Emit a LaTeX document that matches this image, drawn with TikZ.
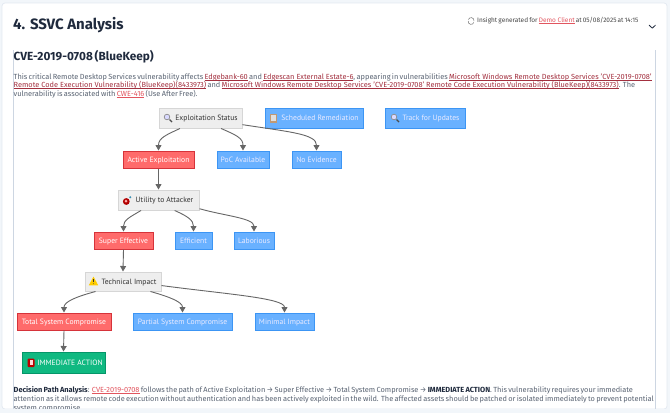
\documentclass[tikz,border=0pt]{standalone}
\usepackage{fontspec}
\usetikzlibrary{arrows.meta}
\setmainfont{Fira Sans}
\newfontfamily\nodefont{PT Sans}
\definecolor{pagebg}{HTML}{F2F6FA}
\definecolor{cardedge}{HTML}{E3E9F1}
\definecolor{rulec}{HTML}{CDD6E2}
\definecolor{headc}{HTML}{1F2A3D}
\definecolor{bodyc}{HTML}{5A6473}
\definecolor{linkc}{HTML}{A3303F}
\definecolor{linkl}{HTML}{E2555F}
\definecolor{redfill}{HTML}{FF6B6B}
\definecolor{rededge}{HTML}{D6333A}
\definecolor{bluefill}{HTML}{69B1FF}
\definecolor{blueedge}{HTML}{3C95F4}
\definecolor{greenfill}{HTML}{10B981}
\definecolor{greenedge}{HTML}{059669}
\definecolor{greyfill}{HTML}{EEEEEE}
\definecolor{greyedge}{HTML}{D6D6D6}
\definecolor{edgec}{HTML}{666666}
\newsavebox\lkbox
\newcommand\ulk[2]{\textcolor{#1}{\sbox\lkbox{#2}\rlap{\rule[-1.1pt]{\wd\lkbox}{.5pt}}\usebox\lkbox}}
\newcommand\lk[1]{\ulk{linkc}{#1}}
\newcommand\lkl[1]{\ulk{linkl}{#1}}
\newcommand\fitl[2]{\makebox[#1][s]{#2}}
\tikzset{
  flowbox/.style={draw,line width=1pt,inner sep=0pt,text height=6.7pt,text depth=1.3pt,font=\nodefont\fontsize{7.65}{10}\selectfont},
  greybox/.style={flowbox,fill=greyfill,draw=greyedge,text=black!80},
  redbox/.style={flowbox,fill=redfill,draw=rededge,text=white},
  bluebox/.style={flowbox,fill=bluefill,draw=blueedge,text=white!92!blue},
  greenbox/.style={flowbox,fill=greenfill,draw=greenedge,text=white},
  flowedge/.style={draw=edgec,line width=0.9pt,-{Triangle[length=5.5pt,width=6pt]}},
  bodyline/.style={anchor=base west,inner sep=0pt,text=bodyc,font=\fontsize{7.4}{9}\selectfont}
}
\newcommand\iconmag[2]{%
  \draw[black!70,line width=1.2pt] (#1+2.5,#2+2.5) -- (#1+5,#2+5);
  \draw[black!45,fill=white!85!blue,line width=.7pt] (#1,#2) circle (2.8pt);}
\newcommand\iconbook[2]{%
  \fill[black!45!orange!55!white] (#1-3.5,#2-4.5) rectangle (#1+3.5,#2+4.5);
  \fill[black!12] (#1-2.6,#2-3.6) rectangle (#1+2.8,#2+2.4);}
\begin{document}
\begin{tikzpicture}[x=1pt,y=-1pt]
\useasboundingbox (0,0) rectangle (670,413);
\fill[pagebg] (0,0) rectangle (670,413);
\filldraw[fill=white,draw=cardedge,line width=.7pt,rounded corners=3pt] (2,3) rectangle (667,409);
\draw[rulec,line width=.7pt] (13.3,50) -- (13.3,409);
\draw[rulec,line width=.7pt] (655.7,50) -- (655.7,409);
% header
\node[anchor=base west,inner sep=0pt,text=headc,font=\bfseries\fontsize{15}{18}\selectfont] (title) at (13,29) {4. SSVC Analysis};
\node[anchor=base west,inner sep=0pt,text=headc,font=\bfseries\fontsize{11.8}{14}\selectfont] (sub) at (13.5,60) {\fitl{134pt}{CVE-2019-0708 (BlueKeep)}};
\draw[black!55,line width=.5pt] (468.2,21) arc (190:20:2.9);
\draw[black!55,line width=.5pt] (474,21) arc (10:-160:2.9);
\node[anchor=base west,inner sep=0pt,text=black!72,font=\fontsize{6.5}{8}\selectfont] (insight) at (477,22) {\fitl{161pt}{Insight generated for \lkl{Demo Client} at 05/08/2025 at 14:15}};
\draw[headc,line width=.8pt,line cap=round,line join=round] (649.2,25.2) -- (652.3,28.2) -- (655.4,25.2);
% intro
\node[bodyline] (p1) at (13.5,79) {\fitl{631.5pt}{This critical Remote Desktop Services vulnerability affects \lk{Edgebank-60} and \lk{Edgescan External Estate-6}, appearing in vulnerabilities \lk{Microsoft Windows Remote Desktop Services 'CVE-2019-0708'}}};
\node[bodyline] (p2) at (13.5,87.7) {\fitl{603pt}{\lk{Remote Code Execution Vulnerability (BlueKeep)(8433973)} and \lk{Microsoft Windows Remote Desktop Services 'CVE-2019-0708' Remote Code Execution Vulnerability (BlueKeep)(8433973)}. The}};
\node[bodyline] (p3) at (13.5,96.5) {\fitl{183pt}{vulnerability is associated with \lkl{CWE-416} (Use After Free).}};
% boxes
\node[greybox,minimum width=83pt,minimum height=20pt] (es) at (200.5,118) {\hspace{12pt}Exploitation Status};
\node[bluebox,minimum width=98pt,minimum height=20pt] (sr) at (314,118) {\hspace{12pt}Scheduled Remediation};
\node[bluebox,minimum width=80pt,minimum height=20pt] (tu) at (425,118) {\hspace{12pt}Track for Updates};
\node[redbox,minimum width=71pt,minimum height=17pt] (ae) at (158.5,159.5) {Active Exploitation};
\node[bluebox,minimum width=52pt,minimum height=17pt] (pa) at (243,159.5) {PoC Available};
\node[bluebox,minimum width=49pt,minimum height=17pt] (ne) at (316.5,159.5) {No Evidence};
\node[greybox,minimum width=81pt,minimum height=20pt] (ua) at (158.5,200) {\hspace{12pt}Utility to Attacker};
\node[redbox,minimum width=59pt,minimum height=17pt] (se) at (123.5,240.5) {Super Effective};
\node[bluebox,minimum width=37pt,minimum height=17pt] (ef) at (193.5,240.5) {Efficient};
\node[bluebox,minimum width=40pt,minimum height=17pt] (la) at (254,240.5) {Laborious};
\node[greybox,minimum width=76pt,minimum height=19pt] (ti) at (123,281.5) {\hspace{12pt}Technical Impact};
\node[redbox,minimum width=94pt,minimum height=17pt] (ts) at (64,321.5) {Total System Compromise};
\node[bluebox,minimum width=99pt,minimum height=17pt] (ps) at (182.5,321.5) {Partial System Compromise};
\node[bluebox,minimum width=59pt,minimum height=17pt] (mi) at (284.5,321.5) {Minimal Impact};
\node[greenbox,minimum width=83pt,minimum height=21pt] (ia) at (63.5,362.5) {\hspace{13pt}IMMEDIATE ACTION};
% icons
\iconmag{167}{117}
\iconbook{273.5}{118.8}
\iconmag{394}{117}
\fill[red!70!black] (126.3,201.5) circle (3.4pt);
\fill[red!35!white] (126,201.2) circle (1.5pt);
\fill[cyan!70!black] (130.3,197.2) circle (1.1pt);
\fill[orange!40!yellow] (93.5,276.6) -- (98.2,285.3) -- (88.8,285.3) -- cycle;
\draw[black!80,line width=.7pt] (93.5,279.3) -- (93.5,282.3);
\fill[black!80] (93.5,283.8) circle (.4pt);
\fill[red!75!black,rounded corners=1pt] (27.5,358.5) rectangle (34.5,367);
\fill[white!85!red] (29.5,360) rectangle (33,364.5);
% edges
\draw[flowedge] (es.-153) .. controls (166,135) and (158.5,138) .. (ae.north);
\draw[flowedge] (es.-27) .. controls (236,135) and (243,138) .. (pa.north);
\draw[flowedge] (es.-9.6) .. controls (290,132) and (316.5,134) .. (ne.north);
\draw[flowedge] (ae.south) -- (ua.north);
\draw[flowedge] (ua.-149) .. controls (130,217) and (123.5,220) .. (se.north);
\draw[flowedge] (ua.-33) .. controls (187,216) and (193.5,220) .. (ef.north);
\draw[flowedge] (ua.-12.5) .. controls (225,216) and (254,218) .. (la.north);
\draw[flowedge] (se.south) -- (ti.north);
\draw[flowedge] (ti.-160) .. controls (75,297) and (64,302) .. (ts.north);
\draw[flowedge] (ti.-20) .. controls (170,297) and (182.5,302) .. (ps.north);
\draw[flowedge] (ti.-6.8) .. controls (225,294) and (284.5,298) .. (mi.north);
\draw[flowedge] (ts.south) -- (ia.north);
% decision text
\node[bodyline] (d1) at (13.5,392) {\fitl{616.5pt}{\textcolor{headc}{\bfseries Decision Path Analysis}: \lkl{CVE-2019-0708} follows the path of Active Exploitation → Super Effective → Total System Compromise → \textcolor{headc}{\bfseries IMMEDIATE ACTION}. This vulnerability requires your immediate}};
\node[bodyline] (d2) at (13.5,401) {\fitl{623.5pt}{attention as it allows remote code execution without authentication and has been actively exploited in the wild. The affected assets should be patched or isolated immediately to prevent potential}};
\node[bodyline] (d3) at (13.5,410) {system compromise.};
% bottom of card hides the clipped line
\fill[pagebg] (0,409.3) rectangle (670,413);
\end{tikzpicture}
\end{document}
